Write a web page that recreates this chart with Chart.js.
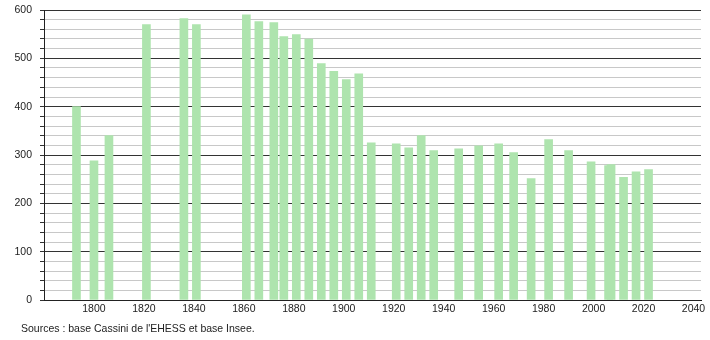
<!DOCTYPE html>
<html>
<head>
<meta charset="utf-8">
<script src="https://cdn.jsdelivr.net/npm/chart.js@4"></script>
<style>
  body { margin: 0; background: #fff; }
  #wrap { position: relative; width: 710px; height: 340px; }
  #src { position: absolute; left: 21px; top: 322px; font: 10.5px "Liberation Sans", Arial, sans-serif; color: #222; white-space: nowrap; }
</style>
</head>
<body>
<div id="wrap">
  <canvas id="chart" width="710" height="340"></canvas>
  <div id="src">Sources : base Cassini de l'EHESS et base Insee.</div>
</div>
<script>
const years = [1793, 1800, 1806, 1821, 1836, 1841, 1861, 1866, 1872, 1876, 1881, 1886, 1891, 1896, 1901, 1906, 1911, 1921, 1926, 1931, 1936, 1946, 1954, 1962, 1968, 1975, 1982, 1990, 1999, 2006, 2007, 2012, 2017, 2022]
const population = [400, 288, 340, 570, 582, 570, 590, 576, 574, 545, 549, 540, 489, 473, 456, 468, 325, 323, 315, 340, 309, 313, 319, 323, 305, 251, 332, 309, 286, 278, 280, 254, 265, 270]
const xTicks = [1800, 1820, 1840, 1860, 1880, 1900, 1920, 1940, 1960, 1980, 2000, 2020, 2040]

const font = { family: '"Liberation Sans", Arial, sans-serif', size: 10.5 }

const points = years.map((y, i) => ({ x: y, y: population[i] }))

const ctx = document.getElementById('chart').getContext('2d')
new Chart(ctx, {
    type: 'bar',
    data: {
        datasets: [{
            data: points,
            backgroundColor: 'rgb(174, 228, 174)',
            borderWidth: 0,
            barThickness: 8
        }]
    },
    options: {
        responsive: false,
        animation: false,
        layout: { padding: { top: 10, right: 9 } },
        plugins: { legend: { display: false }, tooltip: { enabled: false } },
        scales: {
            x: {
                type: 'linear',
                offset: false,
                min: 1780,
                max: 2043,
                afterBuildTicks: scale => { scale.ticks = xTicks.map(v => ({ value: v })) },
                afterFit: scale => { scale.height = 40; scale.paddingLeft = 0; scale.paddingRight = 0 },
                grid: { display: false, drawTicks: false, offset: false },
                border: { display: true, color: '#222', width: 1 },
                ticks: { font: font, color: '#222', padding: 3, maxRotation: 0, autoSkip: false, callback: v => String(v) }
            },
            y: {
                min: 0,
                max: 600,
                afterFit: scale => { scale.width = 44; scale.paddingTop = 0; scale.paddingBottom = 0 },
                ticks: {
                    stepSize: 20,
                    font: font,
                    color: '#222',
                    padding: 8,
                    autoSkip: false,
                    callback: v => (v % 100 === 0 ? String(v) : '')
                },
                grid: {
                    color: c => (c.tick && c.tick.value % 100 === 0 ? '#333' : '#c8c8c8'),
                    tickColor: '#333',
                    tickLength: 4,
                    lineWidth: 1
                },
                border: { display: true, color: '#222', width: 1 }
            }
        }
    }
})
</script>
</body>
</html>
